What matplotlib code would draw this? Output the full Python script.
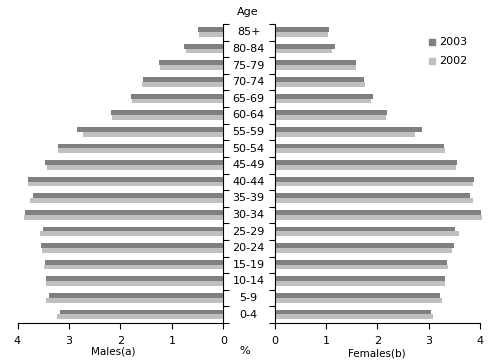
import matplotlib
matplotlib.use("Agg")
import matplotlib.pyplot as plt
import numpy as np
from matplotlib.patches import Rectangle

ages = ["0-4", "5-9", "10-14", "15-19", "20-24", "25-29", "30-34", "35-39", "40-44",
        "45-49", "50-54", "55-59", "60-64", "65-69", "70-74", "75-79", "80-84", "85+"]
males_2003 = [3.17, 3.39, 3.44, 3.46, 3.54, 3.50, 3.85, 3.70, 3.79,
              3.46, 3.21, 2.84, 2.18, 1.79, 1.56, 1.25, 0.76, 0.49]
males_2002 = [3.23, 3.44, 3.44, 3.48, 3.52, 3.56, 3.87, 3.75, 3.79,
              3.42, 3.21, 2.72, 2.16, 1.77, 1.58, 1.23, 0.72, 0.47]
females_2003 = [3.05, 3.22, 3.32, 3.36, 3.49, 3.51, 4.02, 3.81, 3.88,
                3.55, 3.30, 2.87, 2.19, 1.92, 1.74, 1.59, 1.18, 1.06]
females_2002 = [3.09, 3.26, 3.32, 3.38, 3.46, 3.59, 4.04, 3.86, 3.86,
                3.53, 3.32, 2.74, 2.17, 1.88, 1.76, 1.59, 1.12, 1.04]
series_labels = ["2003", "2002"]
xticks = [0, 1, 2, 3, 4]

c2003 = "#808080"
c2002 = "#c0c0c0"
FS = 8

W, H = 501, 363
fig = plt.figure(figsize=(W / 100, H / 100), dpi=100)

def fr(x0, y0, x1, y1):
    return [x0 / W, 1 - y1 / H, (x1 - x0) / W, (y1 - y0) / H]

axL = fig.add_axes(fr(17.5, 24, 223.5, 323))
axR = fig.add_axes(fr(274.5, 24, 480, 323))

y = np.arange(len(ages))
h = 0.29
for ax, v3, v2 in [(axL, males_2003, males_2002), (axR, females_2003, females_2002)]:
    ax.barh(y + h / 2 + 0.015, v3, height=h, color=c2003, clip_on=False)
    ax.barh(y - h / 2 + 0.015, v2, height=h, color=c2002, clip_on=False)
    ax.set_ylim(-0.5, len(ages) - 0.5)
    ax.set_xlim(0, 4)
    ax.set_xticks(xticks)
    ax.set_xticklabels([str(t) for t in xticks], fontsize=FS)
    ax.set_yticks(np.arange(len(ages) + 1) - 0.5)
    ax.set_yticklabels([])
    ax.spines["top"].set_visible(False)
    ax.tick_params(axis="x", direction="out", length=4, width=0.8, pad=5)
    ax.tick_params(axis="y", direction="out", length=4, width=0.8)
    for s in ax.spines.values():
        s.set_linewidth(0.8)

axL.invert_xaxis()
axL.spines["left"].set_visible(False)
axL.yaxis.tick_right()
axR.spines["right"].set_visible(False)
axR.yaxis.tick_left()

# age labels in the middle
for i, a in enumerate(ages):
    yy = axL.transData.transform((0, i))[1]
    fig.text(248.5 / W, yy / H, a, ha="center", va="center", fontsize=FS)

fig.text(248 / W, 1 - 12 / H, "Age", ha="center", va="center", fontsize=FS)
fig.text(245 / W, 1 - 351 / H, "%", ha="center", va="center", fontsize=FS)
fig.text(113 / W, 1 - 351 / H, "Males(a)", ha="center", va="center", fontsize=FS - 0.5)
fig.text(377 / W, 1 - 354 / H, "Females(b)", ha="center", va="center", fontsize=FS - 0.5)

# legend
for i, (lab, col) in enumerate(zip(series_labels, [c2003, c2002])):
    yc = 42 + i * 19
    fig.patches.append(Rectangle(((429) / W, 1 - (yc + 3) / H), 6 / W, 6 / H,
                                 transform=fig.transFigure, color=col))
    fig.text(439 / W, 1 - yc / H, lab, ha="left", va="center", fontsize=FS)

fig.savefig("out.png", dpi=100)
